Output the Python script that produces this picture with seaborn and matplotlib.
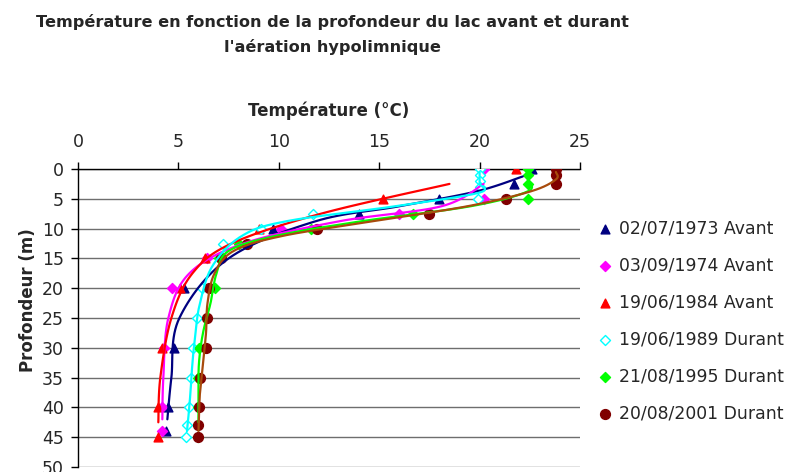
import matplotlib
matplotlib.use("Agg")
import matplotlib.pyplot as plt
import numpy as np
import pandas as pd
import seaborn as sns

# depth (m) / temperature (degC)
labels = ["02/07/1973 Avant", "03/09/1974 Avant", "19/06/1984 Avant",
          "19/06/1989 Durant", "21/08/1995 Durant", "20/08/2001 Durant"]

depth_1973 = [0, 2.5, 5, 7.5, 10, 20, 30, 40, 44]
temp_1973 = [22.6, 21.7, 18.0, 14.0, 9.7, 5.3, 4.8, 4.5, 4.4]

depth_1974 = [0, 5, 7.5, 10, 15, 20, 30, 40, 44]
temp_1974 = [20.2, 20.2, 16.0, 10.1, 6.4, 4.7, 4.3, 4.2, 4.2]

depth_1984 = [0, 5, 10, 15, 20, 30, 40, 45]
temp_1984 = [21.8, 15.2, 9.0, 6.3, 5.1, 4.2, 4.0, 4.0]

depth_1989 = [0, 1, 2, 3, 5, 7.5, 10, 12.5, 20, 25, 30, 35, 40, 43, 45]
temp_1989 = [20.0, 20.0, 20.0, 20.0, 19.9, 11.7, 9.1, 7.2, 6.2, 5.95, 5.75, 5.65, 5.55, 5.45, 5.4]

depth_1995 = [0, 1, 2.5, 5, 7.5, 10, 12.5, 15, 20, 25, 30, 35, 40, 45]
temp_1995 = [22.4, 22.4, 22.4, 22.4, 16.7, 11.6, 8.0, 7.0, 6.8, 6.4, 6.05, 6.0, 6.0, 6.0]

depth_2001 = [0, 1, 2.5, 5, 7.5, 10, 12.5, 15, 20, 25, 30, 35, 40, 43, 45]
temp_2001 = [23.8, 23.8, 23.8, 21.3, 17.5, 11.9, 8.4, 7.1, 6.5, 6.4, 6.35, 6.1, 6.05, 6.0, 6.0]

depths = [depth_1973, depth_1974, depth_1984, depth_1989, depth_1995, depth_2001]
temps = [temp_1973, temp_1974, temp_1984, temp_1989, temp_1995, temp_2001]

marker_colors = ["#000080", "#ff00ff", "#ff0000", "#00ffff", "#00ff00", "#800000"]
line_colors = ["#000080", "#ff00ff", "#ff0000", "#00ffff", "#00ff00", "#a84b0c"]
markers = ["^", "D", "^", "D", "D", "o"]
sizes = [40, 26, 40, 26, 26, 50]


def smooth(xs, ys, n=16):
    # Bezier smoothing like the spreadsheet "smoothed line"
    p = np.column_stack([xs, ys])
    p = np.vstack([p[0], p, p[-1]])
    t = np.linspace(0, 1, n, endpoint=False)[:, None]
    out = []
    for i in range(1, len(p) - 2):
        p0, p1, p2, p3 = p[i - 1], p[i], p[i + 1], p[i + 2]
        c1 = p1 + (p2 - p0) / 6
        c2 = p2 - (p3 - p1) / 6
        out.append((1 - t) ** 3 * p1 + 3 * (1 - t) ** 2 * t * c1
                   + 3 * (1 - t) * t ** 2 * c2 + t ** 3 * p2)
    out.append(p[-2][None])
    return np.vstack(out)


sns.set_theme(style="white")
plt.rcParams["font.family"] = ["DejaVu Sans"]

fig = plt.figure(figsize=(7.87, 4.72), dpi=100)
ax = fig.add_axes([78 / 787, 1 - 467 / 472, 502 / 787, 298 / 472])

handles = []
for i in range(6):
    df = pd.DataFrame({"temp": temps[i], "depth": depths[i]})
    face = "white" if i == 3 else marker_colors[i]
    h = ax.scatter([], [], marker=markers[i], s=sizes[i], facecolor=face,
                   edgecolor=marker_colors[i], linewidth=1, label=labels[i])
    handles.append(h)
    sns.scatterplot(data=df, x="temp", y="depth", marker=markers[i], s=sizes[i],
                    color=face, edgecolor=marker_colors[i], linewidth=1,
                    ax=ax, legend=False, zorder=3)

# moving average (period 2) trend lines
for i in range(6):
    df = pd.DataFrame({"temp": temps[i], "depth": depths[i]})
    ma = df.rolling(2).mean().dropna()
    curve = smooth(ma["temp"].to_numpy(), ma["depth"].to_numpy())
    sns.lineplot(x=curve[:, 0], y=curve[:, 1], sort=False, estimator=None,
                 color=line_colors[i], linewidth=1.6, ax=ax, legend=False, zorder=4)

ax.set_xlim(0, 25)
ax.set_ylim(50, 0)
ax.set_xticks(np.arange(0, 26, 5))
ax.set_yticks(np.arange(0, 51, 5))
ax.xaxis.tick_top()
ax.xaxis.set_label_position("top")
ax.tick_params(axis="both", direction="out", length=5, width=1, color="black",
               labelsize=12.5, pad=5)
ax.tick_params(axis="x", top=True, bottom=False, pad=8)
ax.tick_params(axis="y", left=True)
ax.grid(axis="y", color="#6e6e6e", linewidth=1)
ax.grid(axis="x", visible=False)
for s in ["right", "bottom"]:
    ax.spines[s].set_visible(False)
for s in ["left", "top"]:
    ax.spines[s].set_color("black")
    ax.spines[s].set_linewidth(1)

ax.set_xlabel("Température (°C)", fontsize=12, fontweight="bold", labelpad=12)
ax.set_ylabel("")
fig.text(28 / 787, 1 - 300 / 472, "Profondeur (m)", rotation=90, ha="center",
         va="center", fontsize=12, fontweight="bold")

fig.text(332 / 787, 1 - 22 / 472, "Température en fonction de la profondeur du lac avant et durant",
         ha="center", va="center", fontsize=11.6, fontweight="bold")
fig.text(332 / 787, 1 - 47 / 472, "l'aération hypolimnique",
         ha="center", va="center", fontsize=11.6, fontweight="bold")

fig.legend(handles=handles, loc="upper left", bbox_to_anchor=(588 / 787, 1 - 213 / 472),
           frameon=False, fontsize=12.4, handletextpad=0.2, labelspacing=1.1,
           handlelength=1.2, borderaxespad=0)

fig.savefig("out.png", dpi=100)
